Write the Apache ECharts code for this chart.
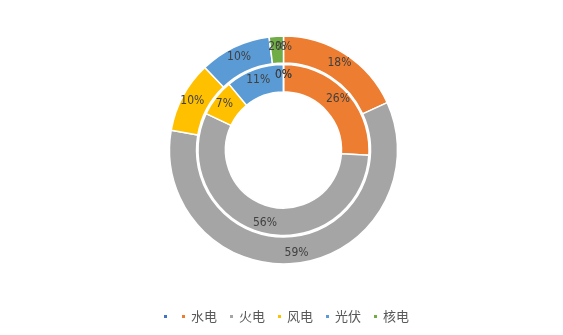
<!DOCTYPE html>
<html><head><meta charset="utf-8">
<script src="https://cdn.jsdelivr.net/npm/echarts@6/dist/echarts.min.js"></script>
<style>html,body{margin:0;padding:0;background:#fff}#c{width:563px;height:335px}</style>
</head><body><div id="c"></div>
<script>
const categories = ['_', '水电', '火电', '风电', '光伏', '核电'];
const outerValues = [0, 18, 59, 10, 10, 2];
const innerValues = [0, 26, 56, 7, 11, 0];
const colors = ['#4472C4', '#ED7D31', '#A5A5A5', '#FFC000', '#5B9BD5', '#70AD47'];

const labelStyle = {
  show: true, position: 'inside', formatter: '{c}%',
  color: '#404040', fontSize: 12, fontFamily: '"DejaVu Sans Condensed","Liberation Sans",sans-serif'
};
function mk(vals) { return categories.map((n, i) => ({ name: n, value: vals[i] })); }

const chart = echarts.init(document.getElementById('c'), null, { renderer: 'canvas' });
chart.setOption({
  backgroundColor: '#fff',
  animation: false,
  color: colors,
  legend: {
    data: categories, left: 157, top: 305,
    icon: 'rect', itemWidth: 5, itemHeight: 5, itemGap: 11,
    formatter: function (n) { return n === '_' ? '' : n; },
    textStyle: { color: '#595959', fontSize: 13, fontFamily: '"Noto Sans CJK SC",sans-serif' }
  },
  series: [
    {
      type: 'pie', center: [283.5, 150], radius: [87, 114], startAngle: 90, clockwise: true,
      label: labelStyle, labelLine: { show: false }, labelLayout: { hideOverlap: false },
      itemStyle: { borderColor: '#fff', borderWidth: 1.5 },
      emphasis: { disabled: true },
      data: mk(outerValues)
    },
    {
      type: 'pie', center: [283.5, 150], radius: [58, 85.5], startAngle: 90, clockwise: true,
      label: labelStyle, labelLine: { show: false }, labelLayout: { hideOverlap: false },
      itemStyle: { borderColor: '#fff', borderWidth: 1.5 },
      emphasis: { disabled: true },
      data: mk(innerValues)
    }
  ]
});
</script></body></html>
